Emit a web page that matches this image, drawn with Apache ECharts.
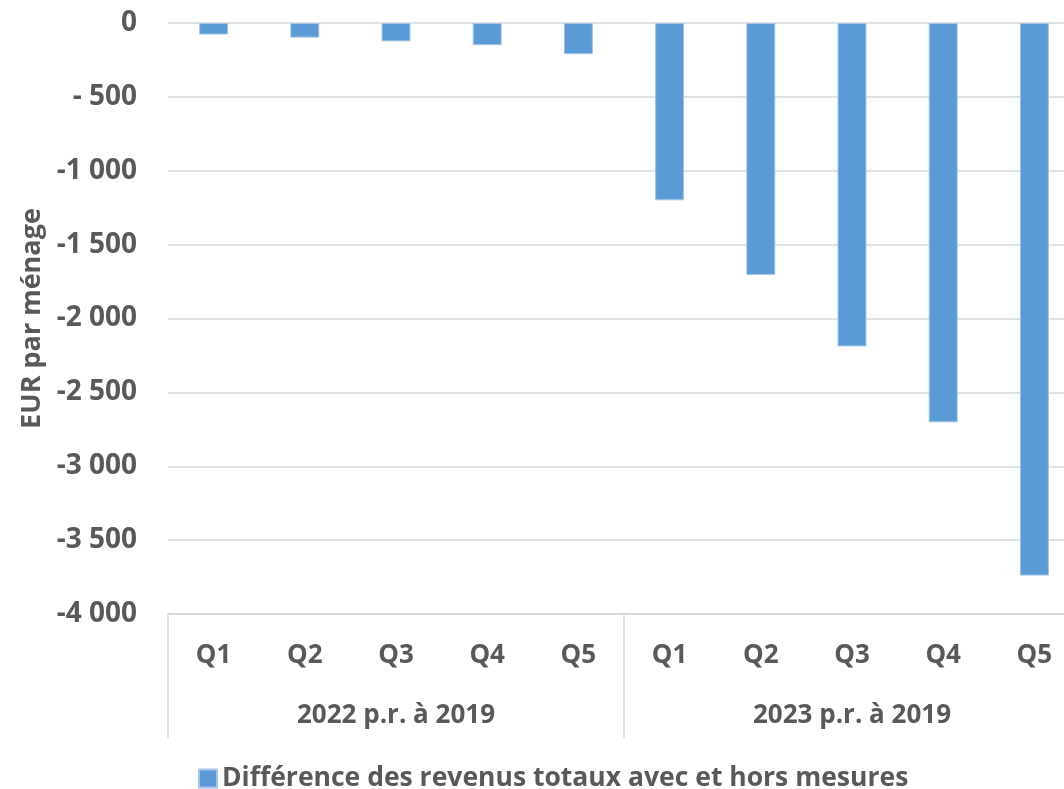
<!DOCTYPE html>
<html>
<head>
<meta charset="utf-8">
<script src="https://cdn.jsdelivr.net/npm/echarts@6/dist/echarts.min.js"></script>
<style>
  html, body { margin: 0; padding: 0; background: #fff; overflow: hidden; }
  /* le graphique d'origine est coupé à droite : la zone de tracé dépasse la fenêtre */
  #chart { width: 1080px; height: 789px; }
</style>
</head>
<body>
<div id="chart"></div>
<script>
// Quintiles (niveau 1) et périodes (niveau 2) de l'axe des x
const quintiles = ['Q1', 'Q2', 'Q3', 'Q4', 'Q5', 'Q1', 'Q2', 'Q3', 'Q4', 'Q5'];
const periods = ['2022 p.r. à 2019', '2023 p.r. à 2019'];

// Différence des revenus (EUR par ménage)
const diffValues = [-78, -99, -124, -150, -211, -1200, -1705, -2189, -2703, -3740];

// Libellés de l'axe des y
const yTickLabels = ['0', '- 500', '-1 000', '-1 500', '-2 000', '-2 500', '-3 000', '-3 500', '-4 000'];

const seriesName = 'Différence des revenus totaux avec et hors mesures';
const FONT = '"Open Sans", sans-serif';
const TEXT = '#595959';
const LINE = '#d9d9d9';

let chart = echarts.init(document.getElementById('chart'));

let option = {
    animation: false,
    grid: { left: 168, top: 23, right: 0, bottom: 175 },
    legend: {
        data: [seriesName],
        left: 193, top: 760,
        icon: 'rect', itemWidth: 18, itemHeight: 18, itemGap: 5,
        textStyle: { fontFamily: FONT, fontWeight: 'bold', fontSize: 26.5, lineHeight: 24, color: TEXT }
    },
    xAxis: [
        {
            type: 'category', position: 'bottom', data: quintiles,
            axisLine: { onZero: false, lineStyle: { color: LINE, width: 1.5 } },
            axisTick: { show: false },
            axisLabel: { margin: 29, fontFamily: FONT, fontWeight: 'bold', fontSize: 26, color: TEXT }
        },
        {
            type: 'category', position: 'bottom', data: periods,
            axisLine: { onZero: false, lineStyle: { color: LINE, width: 1.5 } },
            axisTick: { show: true, length: 124, lineStyle: { color: LINE, width: 1.5 } },
            axisLabel: { margin: 89, fontFamily: FONT, fontWeight: 'bold', fontSize: 26, color: TEXT }
        }
    ],
    yAxis: {
        type: 'value', min: -4000, max: 0, interval: 500,
        name: 'EUR par ménage', nameLocation: 'middle', nameGap: 118, nameRotate: 90,
        nameTextStyle: { fontFamily: FONT, fontWeight: 'bold', fontSize: 27, color: TEXT },
        axisLine: { show: false },
        axisTick: { show: false },
        splitLine: { lineStyle: { color: LINE, width: 1.5 } },
        axisLabel: {
            margin: 31, fontFamily: FONT, fontWeight: 'bold', fontSize: 28, color: TEXT,
            formatter: v => yTickLabels[Math.round(-v / 500)]
        }
    },
    series: [
        {
            name: seriesName, type: 'bar', xAxisIndex: 0, data: diffValues,
            barWidth: 29,
            itemStyle: { color: '#5b9bd5', borderColor: '#a3c6e8', borderWidth: 1 }
        }
    ]
};

chart.setOption(option);
window.addEventListener('resize', () => chart.resize());
</script>
</body>
</html>
